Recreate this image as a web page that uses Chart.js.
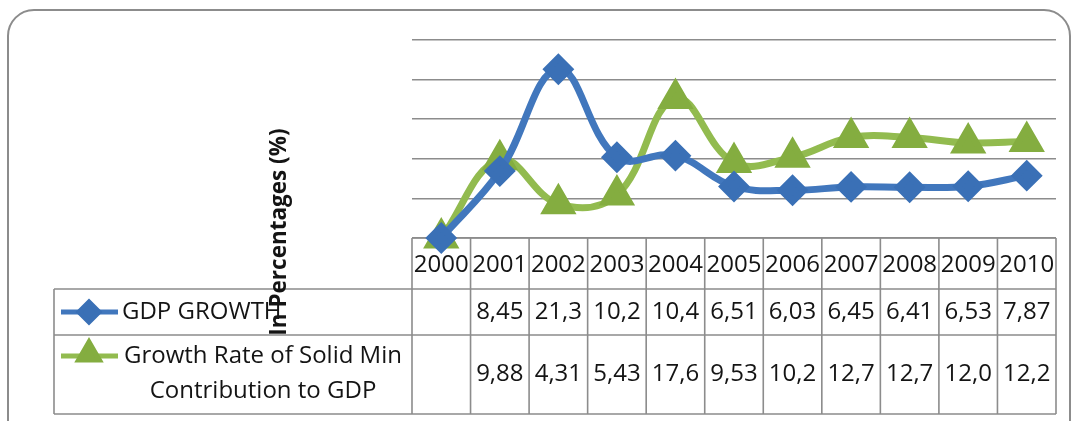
<!DOCTYPE html>
<html>
<head>
<meta charset="utf-8">
<script src="https://cdn.jsdelivr.net/npm/chart.js@4.4.1/dist/chart.umd.min.js"></script>
<style>
  html, body { margin: 0; padding: 0; background: #fff; }
  #wrap { width: 1077px; height: 421px; }
</style>
</head>
<body>
<div id="wrap"><canvas id="myChart" width="1077" height="421"></canvas></div>
<script>
// data (2000 has no value in the table but is plotted at 0)
const years = ["2000", "2001", "2002", "2003", "2004", "2005", "2006", "2007", "2008", "2009", "2010"];
const gdpGrowth = [0, 8.45, 21.3, 10.2, 10.4, 6.51, 6.03, 6.45, 6.41, 6.53, 7.87];
const solidMinGrowth = [0, 9.88, 4.31, 5.43, 17.6, 9.53, 10.2, 12.7, 12.7, 12.0, 12.2];
const gdpTable = ["", "8,45", "21,3", "10,2", "10,4", "6,51", "6,03", "6,45", "6,41", "6,53", "7,87"];
const solidTable = ["", "9,88", "4,31", "5,43", "17,6", "9,53", "10,2", "12,7", "12,7", "12,0", "12,2"];
const seriesNames = [["GDP GROWTH"], ["Growth Rate of Solid Min", "Contribution to GDP"]];
const yTitle = "In Percentages (%)";

const blue = "#4177bd";
const blueMark = "#3a70b6";
const green = "#92bb4f";
const greenMark = "#84ad40";
const gray = "#8c8c8c";

const textFont = "24px 'Open Sans'";

function drawMarker(ctx, style, x, y, r) {
  Chart.helpers.drawPoint(ctx, { pointStyle: style, radius: r, borderWidth: 1 }, x, y);
}

const tablePlugin = {
  id: "tablePlugin",
  beforeDraw(chart) {
    const ctx = chart.ctx;
    ctx.save();
    ctx.strokeStyle = gray;
    ctx.lineWidth = 2;
    ctx.beginPath();
    ctx.roundRect(8, 10, 1062, 440, 26);
    ctx.stroke();
    ctx.restore();
  },
  beforeDatasetsDraw(chart) {
    const ctx = chart.ctx;
    const x = chart.scales.x;
    const area = chart.chartArea;
    const step = x.getPixelForValue(1) - x.getPixelForValue(0);
    const left = x.getPixelForValue(0) - step / 2;
    const right = x.getPixelForValue(years.length - 1) + step / 2;
    const rowTop = area.bottom;
    const row1 = rowTop + 51;
    const row2 = row1 + 46;
    const rowEnd = row2 + 79;
    const tableLeft = 54;

    ctx.save();
    ctx.strokeStyle = gray;
    ctx.lineWidth = 1.6;
    ctx.beginPath();
    [row1, row2, rowEnd].forEach(y => { ctx.moveTo(tableLeft, y); ctx.lineTo(right, y); });
    ctx.moveTo(left, rowTop); ctx.lineTo(right, rowTop);
    ctx.moveTo(tableLeft, row1); ctx.lineTo(tableLeft, rowEnd);
    for (let i = 0; i <= years.length; i++) {
      const cx = left + i * step;
      ctx.moveTo(cx, rowTop); ctx.lineTo(cx, rowEnd);
    }
    ctx.stroke();

    ctx.fillStyle = "#141414";
    ctx.font = textFont;
    ctx.textAlign = "center";
    ctx.textBaseline = "middle";
    years.forEach((yr, i) => {
      const cx = x.getPixelForValue(i);
      ctx.fillText(yr, cx, (rowTop + row1) / 2 + 2);
      ctx.fillText(gdpTable[i], cx, (row1 + row2) / 2);
      ctx.fillText(solidTable[i], cx, (row2 + rowEnd) / 2);
    });

    // legend keys inside the table
    const keyY1 = (row1 + row2) / 2;
    const keyY2 = row2 + 21;
    ctx.lineWidth = 5;
    ctx.strokeStyle = blue;
    ctx.beginPath(); ctx.moveTo(61, keyY1); ctx.lineTo(118, keyY1); ctx.stroke();
    ctx.fillStyle = blueMark; ctx.strokeStyle = blueMark;
    drawMarker(ctx, "rectRot", 89, keyY1, 10);
    ctx.strokeStyle = green;
    ctx.beginPath(); ctx.moveTo(61, keyY2); ctx.lineTo(118, keyY2); ctx.stroke();
    ctx.fillStyle = greenMark; ctx.strokeStyle = greenMark;
    drawMarker(ctx, "triangle", 89, keyY2 - 2, 12);

    ctx.fillStyle = "#141414";
    ctx.textAlign = "left";
    ctx.fillText(seriesNames[0][0], 122, keyY1);
    ctx.textAlign = "center";
    ctx.fillText(seriesNames[1][0], 263, keyY2);
    ctx.fillText(seriesNames[1][1], 263, keyY2 + 35);

    // axis title
    ctx.translate(280, 232);
    ctx.rotate(-Math.PI / 2);
    ctx.font = "bold 22.5px 'Open Sans'";
    ctx.fillStyle = "#141414";
    ctx.fillText(yTitle, 0, 0);
    ctx.restore();
  }
};

const ctx = document.getElementById("myChart").getContext("2d");
new Chart(ctx, {
  type: "line",
  data: {
    labels: years,
    datasets: [
      {
        label: seriesNames[0][0],
        data: gdpGrowth,
        borderColor: blue,
        backgroundColor: blueMark,
        borderWidth: 7,
        tension: 0.4,
        pointStyle: "rectRot",
        pointRadius: 11,
        pointBorderColor: blueMark,
        pointBackgroundColor: blueMark,
        clip: false,
      },
      {
        label: seriesNames[1].join(" "),
        data: solidMinGrowth,
        borderColor: green,
        backgroundColor: greenMark,
        borderWidth: 7,
        tension: 0.4,
        pointStyle: "triangle",
        pointRadius: 14,
        pointBorderColor: greenMark,
        pointBackgroundColor: greenMark,
        clip: false,
      },
    ],
  },
  options: {
    responsive: false,
    animation: false,
    layout: { padding: { left: 412, right: 19, top: 40, bottom: 183 } },
    plugins: { legend: { display: false }, tooltip: { enabled: false } },
    scales: {
      x: {
        offset: true,
        grid: { display: false, drawTicks: false },
        border: { display: false },
        ticks: { display: false },
      },
      y: {
        min: 0,
        max: 25,
        ticks: { display: false, stepSize: 5 },
        grid: { color: gray, lineWidth: 1.6, drawTicks: false },
        border: { display: false },
      },
    },
  },
  plugins: [tablePlugin],
});
</script>
</body>
</html>
